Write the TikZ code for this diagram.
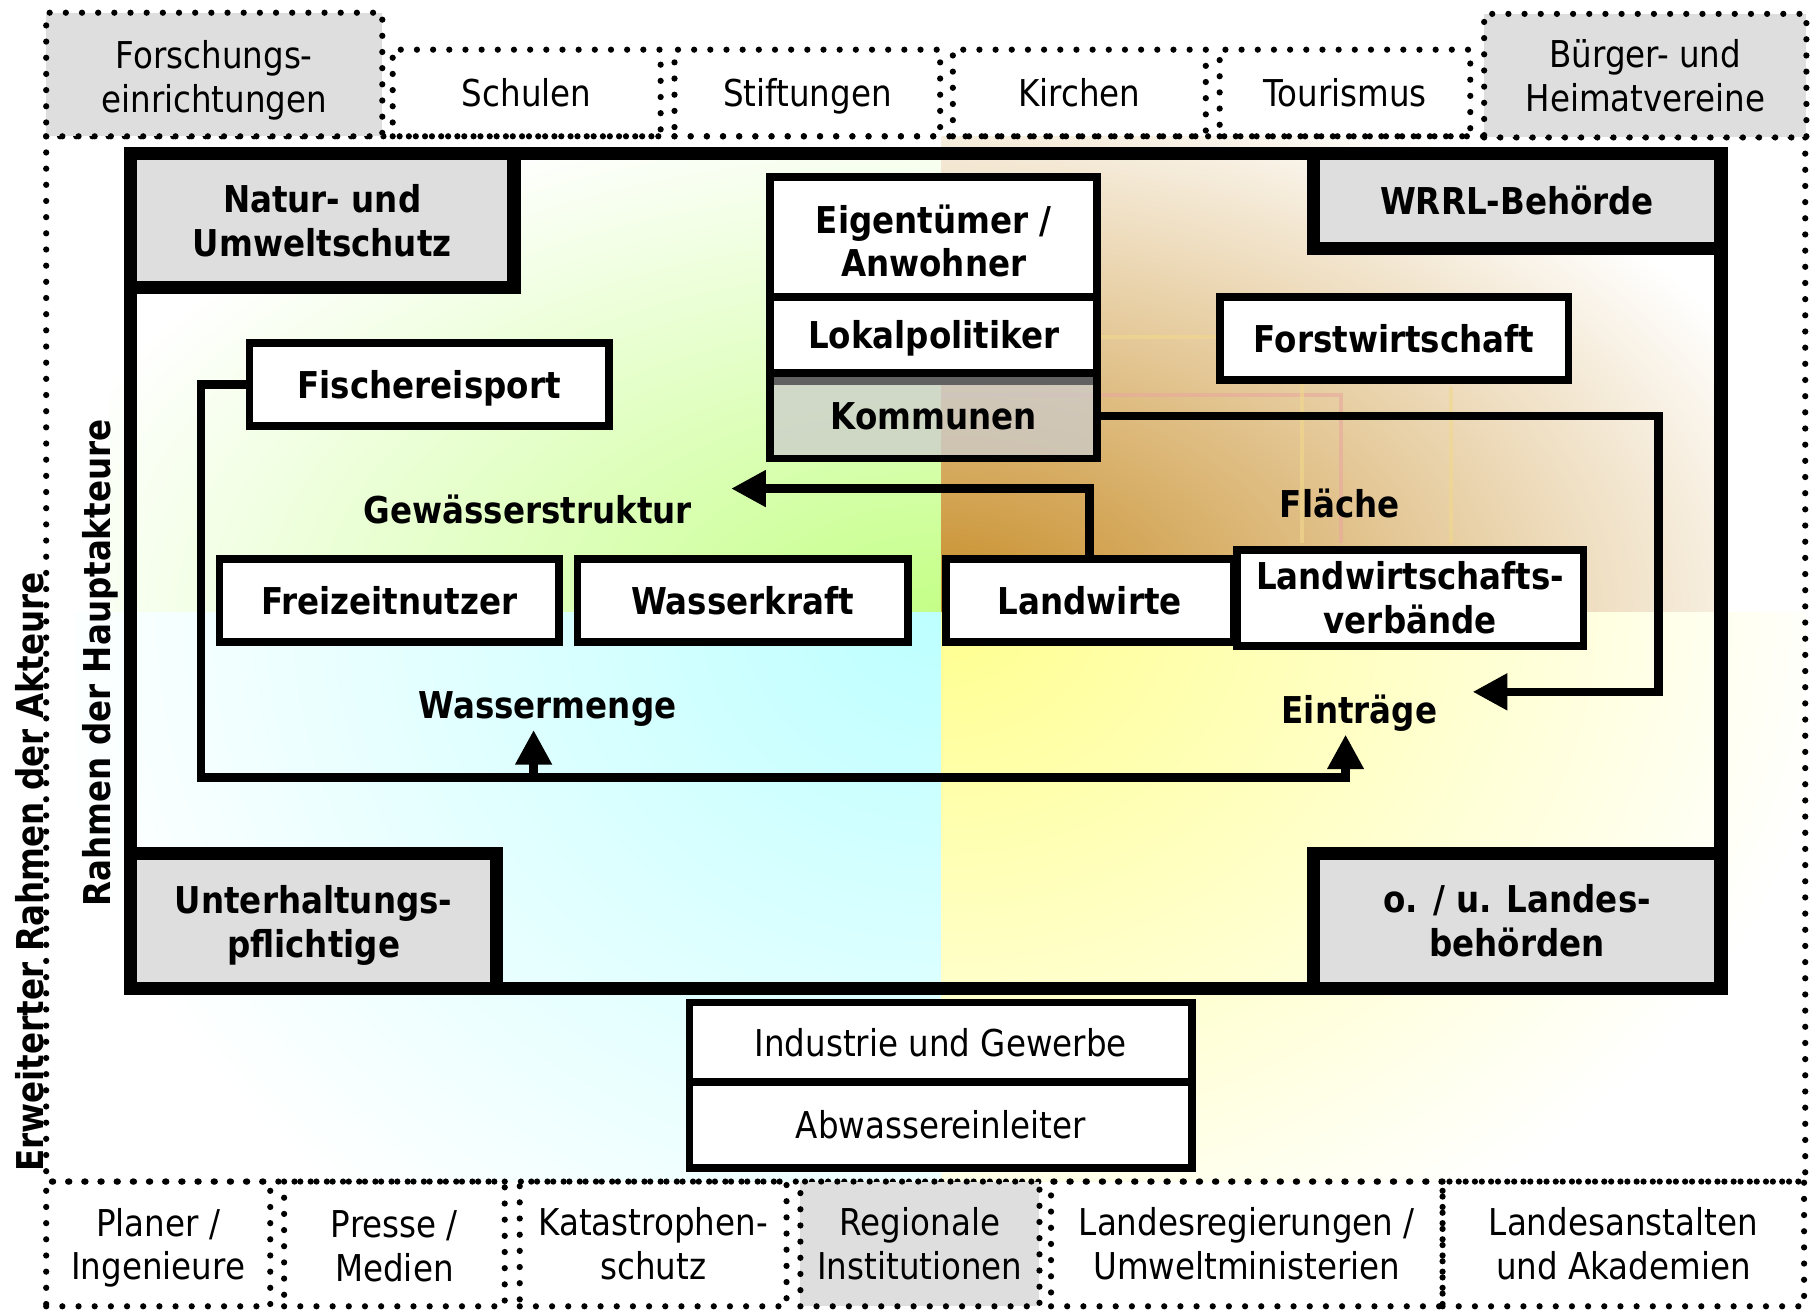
\documentclass[tikz,border=0pt]{standalone}
\usepackage{fontspec}
\setmainfont{DejaVu Sans}[FakeStretch=0.88]
\usetikzlibrary{arrows.meta}
\pgfdeclareradialshading{glowgreen}{\pgfpoint{0bp}{0bp}}{rgb(0bp)=(0.77,1,0.53); rgb(28bp)=(1,1,1); rgb(50bp)=(1,1,1)}
\pgfdeclareradialshading{glowtan}{\pgfpoint{0bp}{0bp}}{rgb(0bp)=(0.78,0.55,0.15); rgb(29bp)=(1,1,1); rgb(50bp)=(1,1,1)}
\pgfdeclareradialshading{glowcyan}{\pgfpoint{0bp}{0bp}}{rgb(0bp)=(0.74,1,1); rgb(26bp)=(1,1,1); rgb(50bp)=(1,1,1)}
\pgfdeclareradialshading{glowyellow}{\pgfpoint{0bp}{0bp}}{rgb(0bp)=(1,1,0.56); rgb(26bp)=(1,1,1); rgb(50bp)=(1,1,1)}
\definecolor{boxgray}{rgb}{0.87,0.87,0.87}
\definecolor{faintpink}{rgb}{0.91,0.66,0.62}
\definecolor{faintyellow}{rgb}{0.95,0.85,0.55}
\begin{document}
\begin{tikzpicture}[x=0.5pt,y=-0.5pt,
  every node/.style={font=\fontsize{16}{19}\selectfont, inner sep=0pt, outer sep=0pt, align=center},
  sz/.style 2 args={minimum width=#1*0.5pt, minimum height=#2*0.5pt},
  one/.style={text height=13pt, text depth=1pt},
  dotbox/.style={draw, line width=2.7pt, dash pattern=on 0pt off 7pt, line cap=round},
  boldtext/.style={font=\fontsize{16}{19}\selectfont\bfseries},
  actor/.style={draw, line width=3.4pt, fill=white, boldtext},
  corner/.style={draw, line width=5.8pt, fill=boxgray, boldtext},
  flow/.style={line width=3.7pt},
  tip/.style={-{Triangle[length=15pt,width=15pt]}},
]
\useasboundingbox (0,0) rectangle (1568,1137);
\fill[white] (0,0) rectangle (1568,1137);

% background glows
\begin{scope}
  \clip (40,118) rectangle (815,530);
  \shade[shading=glowgreen] (95,130) rectangle (1535,930);
\end{scope}
\begin{scope}
  \clip (815,118) rectangle (1563,530);
  \shade[shading=glowtan] (135,110) rectangle (1495,950);
\end{scope}
\begin{scope}
  \clip (40,530) rectangle (815,1023);
  \shade[shading=glowcyan] (65,-120) rectangle (1565,1180);
\end{scope}
\begin{scope}
  \clip (815,530) rectangle (1563,1023);
  \shade[shading=glowyellow] (65,-70) rectangle (1565,1130);
\end{scope}

% faint traces in the brown area
\draw[faintpink, line width=1.6pt, opacity=0.6] (815,342) -- (1161,342) -- (1161,470);
\draw[faintyellow, line width=1.6pt, opacity=0.6] (951,292) -- (1056,292);
\draw[faintyellow, line width=1.6pt, opacity=0.6] (1127,294) -- (1127,470);
\draw[faintyellow, line width=1.6pt, opacity=0.6] (1256,335) -- (1256,470);

% extended frame
\draw[dotbox] (40,118) rectangle (1563,1023);

% top row
\node[dotbox, fill=boxgray, sz={291}{107}] (forsch) at (185.5,64.5) {\rule{0pt}{13.5pt}Forschungs-\\\smash{einrichtungen}};
\node[dotbox, one, sz={232}{75}] (schulen) at (456,80.5) {Schulen};
\node[dotbox, one, sz={230}{75}] (stift) at (699,80.5) {Stiftungen};
\node[dotbox, one, sz={219}{75}] (kirchen) at (934.5,80.5) {Kirchen};
\node[dotbox, one, sz={217}{75}] (tour) at (1164.5,80.5) {Tourismus};
\node[dotbox, fill=boxgray, sz={279}{107}] (buerger) at (1424.5,65.5) {Bürger- und\\Heimatvereine};

% bottom row
\node[dotbox, sz={194}{108}] (planer) at (137,1077) {Planer /\\\smash{Ingenieure}};
\node[dotbox, sz={191}{108}] (presse) at (341.5,1077) {\rule{0pt}{13.5pt}Presse /\\Medien};
\node[dotbox, sz={231}{108}] (kat) at (565.5,1077) {Katastrophen-\\schutz};
\node[dotbox, fill=boxgray, sz={207}{108}] (reg) at (796.5,1077) {Regionale\\Institutionen};
\node[dotbox, sz={339}{108}] (landesreg) at (1079.5,1077) {Landesregierungen /\\Umweltministerien};
\node[dotbox, sz={313}{108}] (landesanst) at (1405.5,1077) {Landesanstalten\\und Akademien};

% main frame
\draw[line width=5.8pt] (113,133) rectangle (1490,856);
\node[corner, sz={332}{116}] (natur) at (279,191) {Natur- und\\Umweltschutz};
\node[corner, one, sz={353}{82}] (wrrl) at (1313.5,174) {WRRL-Behörde};
\node[corner, sz={317}{117}] (unterh) at (271.5,797.5) {Unterhaltungs-\\\smash{pflichtige}};
\node[corner, sz={353}{117}] (landesb) at (1313.5,797.5) {o. / u. Landes-\\behörden};

% actors
\node[actor, sz={283}{104}] (eig) at (808.5,205) {\rule{0pt}{16pt}Eigentümer /\\Anwohner};
\node[actor, one, sz={283}{66}] (lok) at (808.5,290) {Lokalpolitiker};
\node[actor, one, fill=black!20, fill opacity=0.75, text opacity=1, sz={283}{74}] (kom) at (808.5,360) {Kommunen};
\fill[black!62] ([xshift=1.7pt,yshift=-1.7pt]kom.north west) rectangle ([xshift=-1.7pt,yshift=-5.2pt]kom.north east);
\node[actor, one, sz={302}{72}] (forst) at (1207,293) {Forstwirtschaft};
\node[actor, one, sz={311}{72}] (fisch) at (371.5,333) {Fischereisport};
\node[actor, one, sz={294}{72}] (frei) at (337,520) {Freizeitnutzer};
\node[actor, one, sz={286}{72}] (wkraft) at (643,520) {Wasserkraft};
\node[actor, one, sz={249}{72}] (landw) at (943.5,520) {Landwirte};
\node[actor, sz={300}{83}] (lwv) at (1221,517.5) {Landwirtschafts-\\verbände};
\node[actor, one, font=\fontsize{16}{19}\selectfont, sz={435}{69}] (ind) at (814.5,902.5) {Industrie und Gewerbe};
\node[actor, one, font=\fontsize{16}{19}\selectfont, sz={435}{74}] (abw) at (814.5,974) {Abwassereinleiter};

% labels
\node[boldtext, anchor=base] (gew) at (457,453) {Gewässerstruktur};
\node[boldtext, anchor=base] (menge) at (474,622) {Wassermenge};
\node[boldtext, anchor=base] (flaeche) at (1160,448) {Fläche};
\node[boldtext, anchor=base] (eintr) at (1177,626) {Einträge};
\node[boldtext, rotate=90] (erw) at (26,755) {Erweiterter Rahmen der Akteure};
\node[boldtext, rotate=90] (haupt) at (87,574) {Rahmen der Hauptakteure};

% connectors
\coordinate (gtip) at (633,423);
\draw[flow,tip] (landw.north) |- (gtip);
\coordinate (fbl) at (174,673);
\coordinate (etip) at (1165,636);
\draw[flow,tip] (fisch.west) -| (fbl) -| (etip);
\coordinate (wbase) at (462,673);
\coordinate (wtip) at (462,632);
\draw[flow,tip] (wbase) -- (wtip);
\coordinate (kcorner) at (1436,599);
\coordinate (ktip) at (1275,599);
\draw[flow,tip] (kom.east) -| (kcorner) -- (ktip);
\end{tikzpicture}
\end{document}
